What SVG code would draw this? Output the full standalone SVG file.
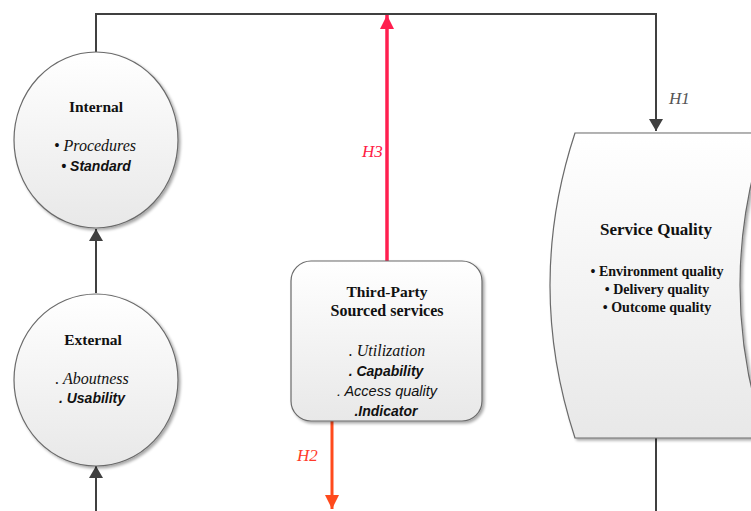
<svg xmlns="http://www.w3.org/2000/svg" width="751" height="511" viewBox="0 0 751 511">
<defs>
<linearGradient id="g" x1="0" y1="0" x2="0" y2="1">
<stop offset="0" stop-color="#ffffff"/>
<stop offset="1" stop-color="#e8e8e8"/>
</linearGradient>
<filter id="sh" x="-10%" y="-10%" width="130%" height="130%">
<feGaussianBlur in="SourceAlpha" stdDeviation="1.5"/>
<feOffset dx="1.5" dy="2" result="o"/>
<feComponentTransfer><feFuncA type="linear" slope="0.35"/></feComponentTransfer>
<feMerge><feMergeNode/><feMergeNode in="SourceGraphic"/></feMerge>
</filter>
<marker id="ag" viewBox="0 0 12 14" refX="12" refY="7" markerWidth="12" markerHeight="14" markerUnits="userSpaceOnUse" orient="auto">
<path d="M0,0 L12,7 L0,14 Z" fill="#404040"/>
</marker>
<marker id="ar3" viewBox="0 0 14 14" refX="14" refY="7" markerWidth="14" markerHeight="14" markerUnits="userSpaceOnUse" orient="auto">
<path d="M0,0 L14,7 L0,14 Z" fill="#ff1f4f"/>
</marker>
<marker id="ar2" viewBox="0 0 14 14" refX="14" refY="7" markerWidth="14" markerHeight="14" markerUnits="userSpaceOnUse" orient="auto">
<path d="M0,0 L14,7 L0,14 Z" fill="#ff4a1c"/>
</marker>
</defs>
<style>
.node{fill:url(#g);stroke:#6a6a6a;stroke-width:1.2;filter:url(#sh)}
.ln{fill:none;stroke:#404040;stroke-width:2}
.t{font-family:"Liberation Serif",serif;font-weight:bold;fill:#111;text-anchor:middle}
.it{font-family:"Liberation Serif",serif;font-style:italic;fill:#111;text-anchor:middle}
.bi{font-family:"Liberation Sans",sans-serif;font-style:italic;font-weight:bold;fill:#111;text-anchor:middle}
.lb{font-family:"Liberation Serif",serif;font-style:italic;font-size:17px}
</style>
<rect width="751" height="511" fill="#ffffff"/>
<g id="connectors">
<path class="ln" d="M96,52 V14 H656 V131" marker-end="url(#ag)"/>
<path class="ln" d="M96,293 V229" marker-end="url(#ag)"/>
<path class="ln" d="M96,511 V466" marker-end="url(#ag)"/>
<path class="ln" d="M656,438 V511"/>
<path d="M387,261 V15" fill="none" stroke="#ff1f4f" stroke-width="3.5" marker-end="url(#ar3)"/>
<path d="M332,421 V509" fill="none" stroke="#ff4a1c" stroke-width="3" marker-end="url(#ar2)"/>
<text class="lb" x="669" y="104" fill="#555">H1</text>
<text class="lb" x="362" y="157" fill="#ff2045">H3</text>
<text class="lb" x="297" y="461" fill="#ff3a2a">H2</text>
</g>
<g id="internal">
<ellipse class="node" cx="96" cy="140" rx="82" ry="88"/>
<text class="t" x="96" y="112" font-size="15.5">Internal</text>
<text class="it" x="95" y="151" font-size="16">• Procedures</text>
<text class="bi" x="96" y="171" font-size="14">• Standard</text>
</g>
<g id="external">
<ellipse class="node" cx="96" cy="380" rx="82" ry="86"/>
<text class="t" x="93" y="345" font-size="15.5">External</text>
<text class="it" x="92" y="384" font-size="16">. Aboutness</text>
<text class="bi" x="92" y="403" font-size="14">. Usability</text>
</g>
<g id="third-party">
<rect class="node" x="291" y="261" width="191" height="160" rx="20" ry="20"/>
<text class="t" x="387" y="297" font-size="15.5">Third-Party</text>
<text class="t" x="387" y="316" font-size="16">Sourced services</text>
<text class="it" x="387" y="356" font-size="16">. Utilization</text>
<text class="bi" x="386" y="376" font-size="14">. Capability</text>
<text x="387" y="396" font-family="Liberation Sans,sans-serif" font-style="italic" font-size="14.5" fill="#111" text-anchor="middle">. Access quality</text>
<text class="bi" x="386" y="416" font-size="14">.Indicator</text>
</g>
<g id="service-quality">
<path class="node" d="M575,133 H765 Q715,285 765,438 H575 Q525,285 575,133 Z"/>
<text class="t" x="656" y="235" font-size="17">Service Quality</text>
<text class="t" x="657" y="276" font-size="14">• Environment quality</text>
<text class="t" x="657" y="294" font-size="14">• Delivery quality</text>
<text class="t" x="657" y="312" font-size="14">• Outcome quality</text>
</g>
</svg>
